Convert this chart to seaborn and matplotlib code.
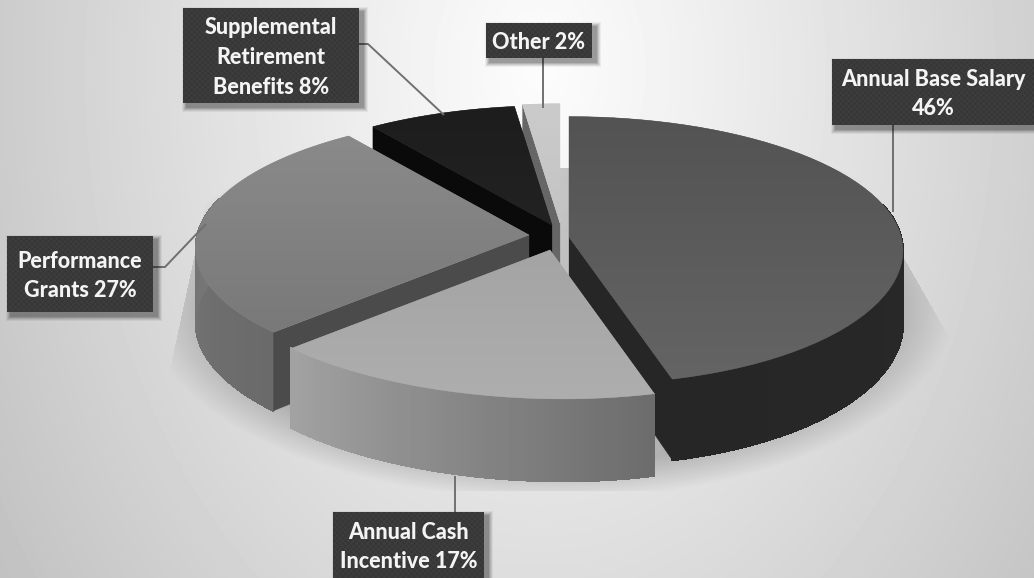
import numpy as np
import matplotlib
matplotlib.use("Agg")
import matplotlib.pyplot as plt
from matplotlib.patches import Polygon, Rectangle
from matplotlib.collections import PolyCollection
import seaborn as sns

# Share of total compensation, clockwise from 12 o'clock
categories = ["Annual Base Salary", "Annual Cash Incentive", "Performance Grants",
              "Supplemental Retirement Benefits", "Other"]
shares = [46, 17, 27, 8, 2]
label_lines = ["Annual Base Salary\n46%", "Annual Cash\nIncentive 17%", "Performance\nGrants 27%",
               "Supplemental\nRetirement\nBenefits 8%", "Other 2%"]

# Greys of each slice: top face (far, near), outer wall (start, end), cut wall
top_colors = [("#535353", "#646464"), ("#a4a4a4", "#aeaeae"), ("#8a8a8a", "#797979"),
              ("#1d1d1d", "#222222"), ("#cbcbcb", "#c4c4c4")]
wall_colors = [("#2b2b2b", "#262626"), ("#6c6c6c", "#a2a2a2"), ("#6a6a6a", "#808080"),
               ("#0a0a0a", "#0a0a0a"), ("#777777", "#777777")]
cut_colors = ["#262626", "#6c6c6c", "#4b4b4b", "#0a0a0a", "#666666"]

# Pie placement and perspective, in figure pixels
CX, CY = 551, 232
RX, RY, THICK, PERSP, SKEW = 331, 132, 73, 0.10, 13
slice_shift = [(18, 5), (-1, 18), (-22, 3), (1, -7), (9, -9)]
draw_order = [4, 3, 2, 0, 1]
cut_edge = {0: "end", 2: "start", 3: "start", 4: "start"}

# Label boxes: left, top, right, bottom, then the leader line vertices
boxes = [(832, 59, 1034, 125), (333, 512, 484, 578), (7, 236, 153, 312),
         (183, 8, 359, 103), (486, 23, 592, 58)]
leaders = [[(893, 125), (893, 212)], [(455, 512), (455, 476)],
           [(153, 267), (165, 267), (206, 224)],
           [(359, 44), (368, 44), (444, 115)], [(543, 58), (543, 108)]]

sns.set_theme(style="white")
plt.rcParams["font.family"] = ["Lato", "DejaVu Sans"]

fig = plt.figure(figsize=(10.34, 5.78), dpi=100)
ax = fig.add_axes([0, 0, 1, 1])
ax.set_axis_off()

# Page backdrop: soft radial grey with a shaded floor under the pie
yy, xx = np.mgrid[0:578, 0:1034] + 0.5
r_bg = np.hypot((xx - 540) / 600, (yy - 70) / 850)
bg = 252 - 54 * np.clip(r_bg, 0, 1.1) ** 1.1
r_sh = np.hypot((xx - 550) / 405, (yy - 305) / 195)
fade = np.clip((1 - r_sh) / 0.18, 0, 1)
left_edge = 200 - (yy - 230) * 30 / 140
right_edge = 905 + (yy - 260) * 40 / 70
floor = (xx > left_edge) & (xx < right_edge) & (yy > 168) & (yy < 491)
bg = np.where(floor, bg - fade * 50, bg)
ax.imshow(bg, cmap="gray", vmin=0, vmax=255, extent=(0, 1034, 578, 0), aspect="auto", zorder=0)


def project(theta, radius, shift, z):
    """Map a point on a slice (angle clockwise from north) to pixels."""
    px = radius * np.sin(theta)
    py = -radius * np.cos(theta)
    depth = py + shift[1] / RY
    w = 1 / (1 - PERSP * depth)
    lean = SKEW * np.clip(py, 0, 1) ** 3
    return CX + shift[0] + RX * px * w + lean, CY + shift[1] + (RY * py + z * THICK) * w


fractions = np.array(shares, dtype=float) / sum(shares)
ends = np.cumsum(fractions) * 2 * np.pi
starts = ends - fractions * 2 * np.pi

z = 1
for i in draw_order:
    th = np.linspace(starts[i], ends[i], 60)
    shift = slice_shift[i]

    # outer wall, as narrow strips so the grey can drift along the arc;
    # only the part of the rim turned towards the viewer is drawn
    xt, yt = project(th, 1, shift, 0)
    xb, yb = project(th, 1, shift, 1)
    quads = [[(xt[j], yt[j]), (xt[j + 1], yt[j + 1]), (xb[j + 1], yb[j + 1]), (xb[j], yb[j])]
             for j in range(len(th) - 1)]
    strip_cols = sns.blend_palette(wall_colors[i], len(quads))
    near = [j for j in range(len(quads)) if np.cos(th[j]) < 0.25]
    if near:
        ax.add_collection(PolyCollection([quads[j] for j in near],
                                         facecolors=[strip_cols[j] for j in near],
                                         edgecolors=[strip_cols[j] for j in near],
                                         linewidths=0.8, antialiaseds=False, zorder=z))
    z += 1

    # cut wall facing the viewer
    ax0, ay0 = project(0.0, 0, shift, 0)
    if i in cut_edge:
        a = ends[i] if cut_edge[i] == "end" else starts[i]
        ax1, ay1 = project(0.0, 0, shift, 1)
        rx0, ry0 = project(a, 1, shift, 0)
        rx1, ry1 = project(a, 1, shift, 1)
        ax.add_patch(Polygon([(ax0, ay0), (rx0, ry0), (rx1, ry1), (ax1, ay1)],
                             closed=True, fc=cut_colors[i], ec=cut_colors[i], lw=0.2, zorder=z))
        z += 1

    # top face with a gentle vertical gradient
    outline = np.column_stack([np.r_[ax0, xt], np.r_[ay0, yt]])
    face = Polygon(outline, closed=True, fc=top_colors[i][0], ec=top_colors[i][0], lw=0.3, zorder=z)
    ax.add_patch(face)
    z += 1
    ramp = np.array(sns.blend_palette(top_colors[i], 64))[:, None, :3]
    img = ax.imshow(ramp, extent=(outline[:, 0].min(), outline[:, 0].max(),
                                  outline[:, 1].max(), outline[:, 1].min()),
                    aspect="auto", zorder=z)
    img.set_clip_path(face)
    z += 1

# Leader lines and textured callouts
top_z = z + 10
for pts in leaders:
    xs, ys = zip(*pts)
    ax.plot(xs, ys, color="#707070", lw=1.4, solid_capstyle="butt", zorder=top_z)

for (x0, y0, x1, y1), text in zip(boxes, label_lines):
    for grow, alpha in [(5, 0.05), (4, 0.07), (3, 0.09), (2, 0.11), (1, 0.13)]:
        ax.add_patch(Rectangle((x0 + 4 - grow, y0 + 4 - grow), x1 - x0 + 2 * grow, y1 - y0 + 2 * grow,
                               fc="black", ec="none", alpha=alpha, zorder=top_z + 1))
    gy, gx = np.mgrid[int(y0):int(y1), int(x0):int(x1)]
    dots = 58 + 5 * (np.sin(gx * 2 * np.pi / 5.5) * np.sin(gy * 2 * np.pi / 5.5))
    ax.imshow(dots, cmap="gray", vmin=0, vmax=255, extent=(x0, x1, y1, y0), aspect="auto",
              interpolation="bilinear", zorder=top_z + 2)
    ax.text((x0 + x1) / 2, (y0 + y1) / 2 + 2, text, color="#f4f4f4", fontsize=15.5, fontweight="black",
            ha="center", va="center", linespacing=1.5, zorder=top_z + 3)

ax.set_xlim(0, 1034)
ax.set_ylim(578, 0)
fig.savefig("out.png", dpi=100)
